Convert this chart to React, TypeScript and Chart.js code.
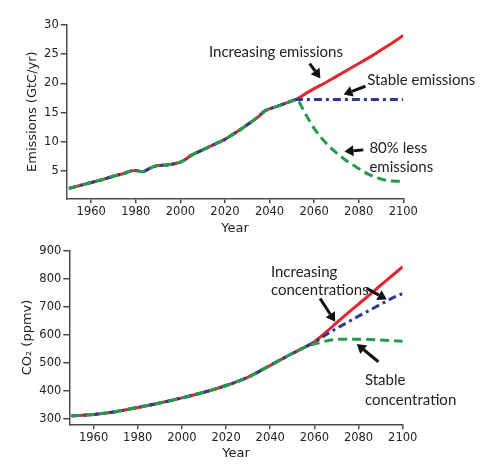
import React, { useEffect, useRef } from "react";
import { Chart, registerables } from "chart.js";

Chart.register(...registerables);

// ---------- data ----------
const yearTicks = [1960, 1980, 2000, 2020, 2040, 2060, 2080, 2100];
const emissionTicks = [5, 10, 15, 20, 25, 30];
const co2Ticks = [300, 400, 500, 600, 700, 800, 900];

// Emissions (GtC/yr), shared history
const emissionHistYears = [1950, 1955, 1960, 1965, 1970, 1975, 1978, 1980, 1983, 1986, 1989, 1994, 2000, 2002, 2005, 2010, 2015, 2020, 2025, 2030, 2035, 2038, 2043, 2048, 2052];
const emissionHist = [2.0, 2.5, 3.0, 3.5, 4.1, 4.6, 5.0, 5.05, 4.85, 5.4, 5.85, 6.0, 6.5, 6.9, 7.7, 8.6, 9.5, 10.4, 11.6, 12.9, 14.3, 15.3, 16.0, 16.7, 17.25];

const emissionProjYears = [2056, 2060, 2065, 2070, 2075, 2080, 2085, 2090, 2095, 2100];
const increasingEmissions = [18.2, 19.1, 20.1, 21.2, 22.3, 23.4, 24.5, 25.7, 26.9, 28.2];
const stableEmissions = [17.25, 17.25, 17.25, 17.25, 17.25, 17.25, 17.25, 17.25, 17.25, 17.25];
const lessEmissions = [14.8, 12.3, 9.9, 8.1, 6.6, 5.4, 4.3, 3.6, 3.25, 3.2];

// CO2 (ppmv), shared history
const co2HistYears = [1950, 1960, 1970, 1980, 1990, 2000, 2010, 2020, 2030, 2040, 2045, 2050, 2056];
const co2Hist = [312, 317, 327, 342, 358, 376, 396, 420, 450, 492, 513, 534, 558];

const co2ProjYears = [2060, 2065, 2070, 2075, 2080, 2085, 2090, 2095, 2100];
const increasingCo2 = [576, 608, 643, 677, 710, 743, 777, 810, 843];
const stableEmissionsCo2 = [574, 600, 623, 645, 667, 688, 709, 730, 748];
const stableConcentration = [568, 578, 584, 585, 585, 584, 582, 580, 578];

// annotations (in data coordinates: year, value)
const topLabels = [
  { text: "Increasing emissions", year: 2012.8, value: 25.3 },
  { text: "Stable emissions", year: 2083.8, value: 20.55 },
  { text: "80% less", year: 2084.8, value: 8.9 },
  { text: "emissions", year: 2084.8, value: 5.7 },
];
const topArrows = [
  { from: [2058, 23.4], to: [2062.8, 20.85] },
  { from: [2083.0, 19.5], to: [2073.2, 18.1] },
  { from: [2082.1, 8.6], to: [2073.6, 8.3] },
];
const bottomLabels = [
  { text: "Increasing", year: 2040.3, value: 824.7 },
  { text: "concentrations", year: 2040.3, value: 759.6 },
  { text: "Stable", year: 2082.9, value: 439.7 },
  { text: "concentration", year: 2082.9, value: 368.6 },
];
const bottomArrows = [
  { from: [2062.6, 730], to: [2069.4, 647] },
  { from: [2083.7, 766], to: [2092.8, 726.6] },
  { from: [2089, 504.8], to: [2079.2, 567.7] },
];

// ---------- styling ----------
const RED = "#e3262e";
const BLUE = "#2e3a8f";
const GREEN = "#239b4b";
const TEXT = "#222222";
const AXIS = "#4a4a4a";
const TICK_FONT = { family: "DejaVu Sans", size: 11.5 };
const TITLE_FONT = { family: "DejaVu Sans", size: 13 };
const NOTE_FONT = "15px Lato";

function series(histX: number[], histY: number[], projX: number[], projY: number[]) {
  const pts = histX.map((x, i) => ({ x, y: histY[i] }));
  projX.forEach((x, i) => pts.push({ x, y: projY[i] }));
  return pts;
}

function annotationPlugin(labels: any[], arrows: any[]) {
  return {
    id: "notes",
    afterDatasetsDraw(chart: any) {
      const { ctx, scales } = chart;
      const xs = scales.x;
      const ys = scales.y;
      ctx.save();
      ctx.fillStyle = TEXT;
      ctx.font = NOTE_FONT;
      ctx.textAlign = "left";
      ctx.textBaseline = "middle";
      labels.forEach((l) => {
        ctx.fillText(l.text, xs.getPixelForValue(l.year), ys.getPixelForValue(l.value));
      });
      arrows.forEach((a) => {
        const x1 = xs.getPixelForValue(a.from[0]);
        const y1 = ys.getPixelForValue(a.from[1]);
        const x2 = xs.getPixelForValue(a.to[0]);
        const y2 = ys.getPixelForValue(a.to[1]);
        const ang = Math.atan2(y2 - y1, x2 - x1);
        const head = 9;
        const bx = x2 - Math.cos(ang) * head;
        const by = y2 - Math.sin(ang) * head;
        ctx.strokeStyle = "#111";
        ctx.fillStyle = "#111";
        ctx.lineWidth = 3;
        ctx.lineCap = "butt";
        ctx.beginPath();
        ctx.moveTo(x1, y1);
        ctx.lineTo(bx, by);
        ctx.stroke();
        ctx.beginPath();
        ctx.moveTo(x2, y2);
        ctx.lineTo(bx + Math.cos(ang + Math.PI / 2) * 5.5, by + Math.sin(ang + Math.PI / 2) * 5.5);
        ctx.lineTo(bx + Math.cos(ang - Math.PI / 2) * 5.5, by + Math.sin(ang - Math.PI / 2) * 5.5);
        ctx.closePath();
        ctx.fill();
      });
      ctx.restore();
    },
  };
}

type PanelProps = {
  width: number;
  height: number;
  top: number;
  datasets: any[];
  yMin: number;
  yMax: number;
  yTicks: number[];
  yTitle: string;
  labels: any[];
  arrows: any[];
  padTop: number;
  padRight: number;
  yAxisWidth: number;
  xAxisHeight: number;
  yTitlePad: number;
  xTitlePad: number;
};

function Panel(p: PanelProps) {
  const ref = useRef<HTMLCanvasElement | null>(null);
  useEffect(() => {
    if (!ref.current) return;
    const chart = new Chart(ref.current, {
      type: "line",
      data: { datasets: p.datasets },
      options: {
        responsive: false,
        animation: false,
        devicePixelRatio: window.devicePixelRatio || 1,
        layout: { padding: { top: p.padTop, right: p.padRight, left: 0, bottom: 0 } },
        plugins: { legend: { display: false }, tooltip: { enabled: false } },
        elements: { point: { radius: 0 } },
        scales: {
          x: {
            type: "linear",
            min: 1949,
            max: 2100,
            afterBuildTicks: (s: any) => {
              s.ticks = yearTicks.map((v) => ({ value: v }));
            },
            afterFit: (s: any) => {
              s.height = p.xAxisHeight;
            },
            ticks: {
              font: TICK_FONT,
              color: TEXT,
              padding: 2,
              maxRotation: 0,
              autoSkip: false,
              callback: (v: any) => String(v),
            },
            grid: { drawOnChartArea: false, drawTicks: true, tickLength: 5, color: AXIS, lineWidth: 1.5 },
            border: { display: true, color: AXIS, width: 1.5 },
            title: { display: true, text: "Year", font: TITLE_FONT, color: TEXT, padding: { top: 0, bottom: p.xTitlePad } },
          },
          y: {
            type: "linear",
            min: p.yMin,
            max: p.yMax,
            afterBuildTicks: (s: any) => {
              s.ticks = p.yTicks.map((v) => ({ value: v }));
            },
            afterFit: (s: any) => {
              s.width = p.yAxisWidth;
            },
            ticks: { font: TICK_FONT, color: TEXT, padding: 2, callback: (v: any) => String(v) },
            grid: { drawOnChartArea: false, drawTicks: true, tickLength: 6, color: AXIS, lineWidth: 1.5 },
            border: { display: true, color: AXIS, width: 1.5 },
            title: { display: true, text: p.yTitle, font: TITLE_FONT, color: TEXT, padding: { top: p.yTitlePad, bottom: 0 } },
          },
        },
      },
      plugins: [annotationPlugin(p.labels, p.arrows)],
    } as any);
    return () => chart.destroy();
  }, []);
  return (
    <canvas
      ref={ref}
      width={p.width}
      height={p.height}
      style={{ position: "absolute", left: 0, top: p.top, width: p.width, height: p.height }}
    />
  );
}

function lineSet(label: string, data: any[], color: string, dash: number[], order: number) {
  return {
    label,
    data,
    borderColor: color,
    backgroundColor: color,
    borderWidth: 3,
    borderDash: dash,
    fill: false,
    cubicInterpolationMode: "monotone",
    order,
  };
}

export default function App() {
  const topSets = [
    lineSet("Increasing emissions", series(emissionHistYears, emissionHist, emissionProjYears, increasingEmissions), RED, [], 3),
    lineSet("Stable emissions", series(emissionHistYears, emissionHist, emissionProjYears, stableEmissions), BLUE, [8, 4, 3, 4], 2),
    lineSet("80% less emissions", series(emissionHistYears, emissionHist, emissionProjYears, lessEmissions), GREEN, [9, 5], 1),
  ];
  const bottomSets = [
    lineSet("Increasing concentrations", series(co2HistYears, co2Hist, co2ProjYears, increasingCo2), RED, [], 3),
    lineSet("Stable emissions", series(co2HistYears, co2Hist, co2ProjYears, stableEmissionsCo2), BLUE, [8, 4, 3, 4], 2),
    lineSet("Stable concentration", series(co2HistYears, co2Hist, co2ProjYears, stableConcentration), GREEN, [9, 5], 1),
  ];
  return (
    <div style={{ position: "absolute", left: 0, top: 0, width: 497, height: 466, background: "#fff" }}>
      <Panel
        width={497}
        height={236}
        top={0}
        datasets={topSets}
        yMin={0.3}
        yMax={30}
        yTicks={emissionTicks}
        yTitle="Emissions (GtC/yr)"
        labels={topLabels}
        arrows={topArrows}
        padTop={25}
        padRight={93.7}
        yAxisWidth={66.7}
        xAxisHeight={37.7}
        yTitlePad={24.5}
        xTitlePad={0}
      />
      <Panel
        width={497}
        height={230}
        top={236}
        datasets={bottomSets}
        yMin={282}
        yMax={900}
        yTicks={co2Ticks}
        yTitle="CO₂ (ppmv)"
        labels={bottomLabels}
        arrows={bottomArrows}
        padTop={14.7}
        padRight={94.3}
        yAxisWidth={69.3}
        xAxisHeight={41.7}
        yTitlePad={19.5}
        xTitlePad={4.4}
      />
    </div>
  );
}
